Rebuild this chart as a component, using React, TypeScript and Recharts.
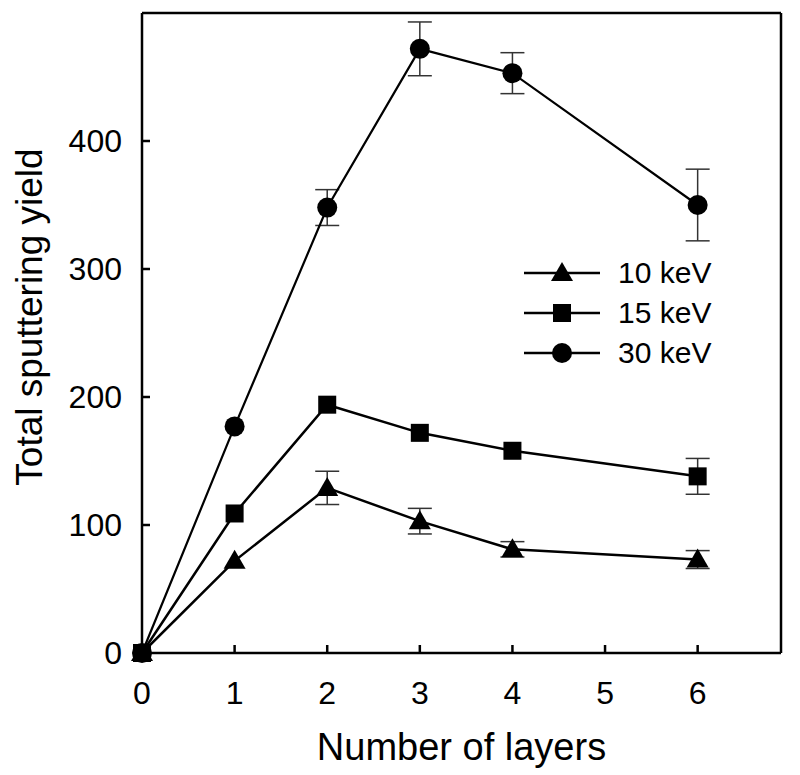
import { LineChart, Line, XAxis, YAxis, ErrorBar, Legend, ReferenceLine, Label } from 'recharts';

// x values (number of layers) and yields
const layers = [0, 1, 2, 3, 4, 6];
const yield10 = [0, 72, 129, 103, 81, 73];
const err10 = [0, 0, 13, 10, 6, 7];
const yield15 = [0, 109, 194, 172, 158, 138];
const err15 = [0, 0, 0, 0, 0, 14];
const yield30 = [0, 177, 348, 472, 453, 350];
const err30 = [0, 0, 14, 21, 16, 28];

const xTicks = [0, 1, 2, 3, 4, 5, 6];
const yTicks = [0, 100, 200, 300, 400];
const seriesNames = ['10 keV', '15 keV', '30 keV'];

const FONT = '"Liberation Sans", Arial, sans-serif';

const data = layers.map((x, i) => ({
  x,
  y10: yield10[i],
  e10: err10[i],
  y15: yield15[i],
  e15: err15[i],
  y30: yield30[i],
  e30: err30[i],
}));

type Shape = 'triangle' | 'square' | 'circle';

function Marker({ cx, cy, shape }: { cx: number; cy: number; shape: Shape }) {
  if (shape === 'triangle') {
    return <polygon points={`${cx},${cy - 11} ${cx - 11},${cy + 8} ${cx + 11},${cy + 8}`} fill="#000" />;
  }
  if (shape === 'square') {
    return <rect x={cx - 9} y={cy - 9} width={18} height={18} fill="#000" />;
  }
  return <circle cx={cx} cy={cy} r={10} fill="#000" />;
}

const makeDot = (shape: Shape) => (props: any) => {
  const { cx, cy, index } = props;
  if (cx == null || cy == null) return <g key={`d-${shape}-${index}`} />;
  return (
    <g key={`d-${shape}-${index}`}>
      <Marker cx={cx} cy={cy} shape={shape} />
    </g>
  );
};

const legendShapes: Shape[] = ['triangle', 'square', 'circle'];

const LegendContent = () => (
  <div style={{ fontFamily: FONT }}>
    {seriesNames.map((name, i) => (
      <div key={name} style={{ display: 'flex', alignItems: 'center', height: 40 }}>
        <svg width={80} height={30}>
          <line x1={2} y1={15} x2={78} y2={15} stroke="#000" strokeWidth={2.5} />
          <Marker cx={40} cy={15} shape={legendShapes[i]} />
        </svg>
        <span style={{ fontSize: 30, marginLeft: 16, color: '#000' }}>{name}</span>
      </div>
    ))}
  </div>
);

export default function App() {
  return (
    <div style={{ position: 'absolute', left: 0, top: 0, background: '#fff' }}>
      <LineChart
        width={800}
        height={775}
        data={data}
        margin={{ top: 13, right: 19, left: 0, bottom: 0 }}
      >
        <XAxis
          dataKey="x"
          type="number"
          domain={[0, 6.9]}
          ticks={xTicks}
          height={122}
          axisLine={{ stroke: '#000', strokeWidth: 2.5 }}
          tickLine={{ stroke: '#000', strokeWidth: 2.5 }}
          tickSize={-8}
          tickMargin={36}
          tick={{ fill: '#000', fontSize: 32, fontFamily: FONT }}
        >
          <Label
            content={(p: any) => {
              const vb = p.viewBox;
              return (
                <text
                  x={vb.x + vb.width / 2}
                  y={vb.y + 107}
                  textAnchor="middle"
                  fontSize={38}
                  fontFamily={FONT}
                  fill="#000"
                >
                  Number of layers
                </text>
              );
            }}
          />
        </XAxis>
        <YAxis
          type="number"
          domain={[0, 500]}
          ticks={yTicks}
          width={142}
          axisLine={{ stroke: '#000', strokeWidth: 2.5 }}
          tickLine={{ stroke: '#000', strokeWidth: 2.5 }}
          tickSize={-8}
          tickMargin={28}
          tick={{ fill: '#000', fontSize: 32, fontFamily: FONT }}
        >
          <Label
            content={() => {
              const cx = 42;
              const cy = 317;
              return (
                <text
                  x={cx}
                  y={cy}
                  textAnchor="middle"
                  transform={`rotate(-90, ${cx}, ${cy})`}
                  fontSize={37}
                  fontFamily={FONT}
                  fill="#000"
                >
                  Total sputtering yield
                </text>
              );
            }}
          />
        </YAxis>
        <ReferenceLine y={500} stroke="#000" strokeWidth={2.5} ifOverflow="visible" />
        <ReferenceLine x={6.9} stroke="#000" strokeWidth={2.5} ifOverflow="visible" />
        <Legend
          layout="vertical"
          align="center"
          verticalAlign="middle"
          content={<LegendContent />}
          wrapperStyle={{ position: 'absolute', left: 522, top: 253, width: 220 }}
        />
        <Line
          dataKey="y30"
          name="30 keV"
          stroke="#000"
          strokeWidth={2.2}
          dot={makeDot('circle')}
          activeDot={false}
          isAnimationActive={false}
        >
          <ErrorBar dataKey="e30" width={12} stroke="#333" strokeWidth={1.5} direction="y" isAnimationActive={false} />
        </Line>
        <Line
          dataKey="y15"
          name="15 keV"
          stroke="#000"
          strokeWidth={2.5}
          dot={makeDot('square')}
          activeDot={false}
          isAnimationActive={false}
        >
          <ErrorBar dataKey="e15" width={12} stroke="#333" strokeWidth={1.5} direction="y" isAnimationActive={false} />
        </Line>
        <Line
          dataKey="y10"
          name="10 keV"
          stroke="#000"
          strokeWidth={2.5}
          dot={makeDot('triangle')}
          activeDot={false}
          isAnimationActive={false}
        >
          <ErrorBar dataKey="e10" width={12} stroke="#333" strokeWidth={1.5} direction="y" isAnimationActive={false} />
        </Line>
      </LineChart>
    </div>
  );
}
